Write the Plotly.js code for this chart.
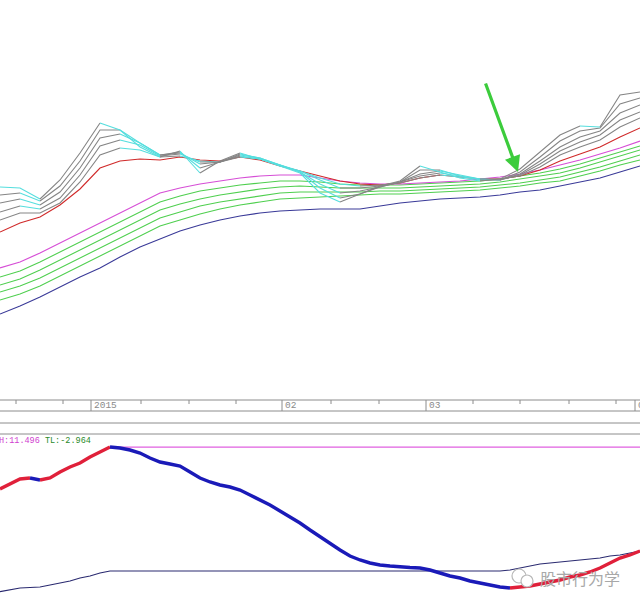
<!DOCTYPE html>
<html><head><meta charset="utf-8">
<script src="https://cdn.plot.ly/plotly-3.0.1.min.js"></script>
<style>html,body{margin:0;padding:0;background:#fff;overflow:hidden}#chart{width:640px;height:607px;}</style>
</head><body><div id="chart"></div>
<script>
// ---------- DATA ----------
// upper panel: moving averages sampled every 2 trading-day slots (index 0..64)
const L1 = [213,212,201,220,247,277,270,253,243,249,227,239,247,241,234,227,207,198,206,214,219,234,228,222,219,221,231,248,265,274,273,305,308];
const L2 = [205,207,199,214,239,270,270,257,245,248,232,238,246,242,235,228,212,202,206,213,218,230,230,224,220,220,228,243,259,269,272,296,302];
const L3 = [197,201,195,208,232,262,266,257,245,247,236,238,245,242,235,228,216,207,209,213,218,226,229,225,221,220,226,239,253,263,269,287,295];
const L4 = [188,194,191,202,225,254,260,255,244,246,238,238,244,241,235,229,220,212,212,214,218,224,227,224,221,220,225,236,249,258,265,280,288];
const L5 = [180,187,187,197,218,245,252,250,243,244,239,238,243,241,234,229,222,216,214,215,217,222,225,223,221,221,224,233,245,253,260,273,282];
const RED = [168,177,183,195,211,232,239,241,240,243,240,239,243,240,234,229,224,219,216,215,217,222,225,223,221,221,224,230,239,246,253,263,272];
const MAG = [132,138,147,157,167,177,187,197,207,212,216,219,222,224,225,225,222,219,217,216,216,217,218,219,221,223,226,230,235,240,246,252,259];
const G1 = [123,129,138,148,158,168,178,188,198,204,209,212,215,217,219,219,218,216,215,215,215,216,217,218,219,221,224,227,231,236,242,248,254];
const G2 = [115,121,130,140,150,160,170,180,190,196,201,205,208,211,213,214,213,212,212,212,212,213,214,215,216,218,221,224,227,232,238,244,250];
const G3 = [108,114,122,132,142,152,162,172,182,188,194,198,201,204,207,208,208,208,208,209,209,210,211,212,213,215,217,220,223,228,233,239,245];
const G4 = [100,106,114,124,134,144,154,164,174,180,186,191,195,198,201,202,203,204,205,206,206,207,208,209,210,212,214,217,219,224,229,235,240];
const BLUE = [86,94,103,113,123,132,143,153,161,169,175,180,184,187,189,190,191,191,191,194,197,199,201,202,203,205,208,210,214,218,222,228,234];

// lower panel: oscillator (thick) and trailing line (thin), one value per slot
const OSC = [7.3,7.8,8.3,8.4,8.2,8.4,9.0,9.5,9.9,10.5,11.0,11.496,11.4,11.2,10.9,10.4,10.0,9.8,9.6,9.0,8.4,8.0,7.7,7.5,7.2,6.7,6.2,5.7,5.1,4.5,3.9,3.2,2.5,1.8,1.2,0.6,0.2,-0.1,-0.3,-0.4,-0.5,-0.55,-0.6,-0.8,-1.1,-1.4,-1.6,-1.9,-2.1,-2.3,-2.5,-2.6,-2.5,-2.4,-2.2,-2.0,-1.8,-1.5,-1.3,-1.0,-0.6,-0.1,0.4,0.7,1.1];
const TRAIL = [-2.964,-2.8,-2.6,-2.55,-2.5,-2.3,-2.1,-1.9,-1.6,-1.4,-1.1,-0.9,-0.9,-0.9,-0.9,-0.9,-0.9,-0.9,-0.9,-0.9,-0.9,-0.9,-0.9,-0.9,-0.9,-0.9,-0.9,-0.9,-0.9,-0.9,-0.9,-0.9,-0.9,-0.9,-0.9,-0.9,-0.9,-0.9,-0.9,-0.9,-0.9,-0.9,-0.9,-0.9,-0.9,-0.9,-0.9,-0.9,-0.9,-0.9,-0.9,-0.8,-0.6,-0.4,-0.2,-0.1,0.0,0.1,0.2,0.3,0.4,0.6,0.7,0.9,1.1];
const H_VAL = 11.496, TL_VAL = -2.964;

// time axis
const majorTicks = [9.1, 28.2, 42.6, 63.5];
const majorLabels = ["2015", "02", "03", "04"];
const minorTicks = [1.6, 6.3, 14.1, 18.9, 23.6, 33.1, 37.9, 47.3, 52.0, 56.9, 61.6];
const watermark = "股市行为学";

// ---------- BUILD ----------
const xUp = UPX = L1.map((_, i) => i * 2);
const xLow = OSC.map((_, i) => i);
const Hpx = 607;
const py = p => 1 - p / Hpx;

const traces = [];
function line(x, y, color, width, xa, ya) {
  traces.push({type:'scatter', mode:'lines', x:x, y:y, xaxis:xa, yaxis:ya,
    line:{color:color, width:width, shape:'linear'}, hoverinfo:'skip', showlegend:false});
}
function slopeLine(x, y, upC, downC, width, xa, ya) {
  let runs = [];
  for (let i = 0; i < y.length - 1; i++) {
    const c = y[i+1] >= y[i] ? upC : downC;
    if (runs.length && runs[runs.length-1].c === c) runs[runs.length-1].idx.push(i+1);
    else runs.push({c:c, idx:[i, i+1]});
  }
  // draw down (cyan/blue) runs after up runs? keep order
  runs.forEach(r => line(r.idx.map(k => x[k]), r.idx.map(k => y[k]), r.c, width, xa, ya));
}

line(xUp, BLUE, '#3a3a98', 1.1, 'x', 'y');
[G4, G3, G2, G1].forEach(g => line(xUp, g, '#4fcf4f', 1.1, 'x', 'y'));
line(xUp, MAG, '#d64fd6', 1.2, 'x', 'y');
line(xUp, RED, '#d02a2a', 1.1, 'x', 'y');
[L5, L4, L3, L2, L1].forEach(l => slopeLine(xUp, l, '#858585', '#55dede', 1.1, 'x', 'y'));

// lower panel
line(xLow, TRAIL, '#2a2a70', 1.1, 'x2', 'y2');
const peakIdx = OSC.indexOf(Math.max(...OSC));
line([xLow[peakIdx], xLow[xLow.length-1]], [H_VAL, H_VAL], '#e060e0', 1.2, 'x2', 'y2');
slopeLine(xLow, OSC, '#e0203a', '#1a1ab8', 3.4, 'x2', 'y2');

const shapes = [];
[400, 411, 423, 434].forEach(p => shapes.push({type:'line', xref:'paper', yref:'paper', x0:0, x1:1, y0:py(p), y1:py(p), line:{color:'#8c8c8c', width:1}}));
majorTicks.forEach(t => shapes.push({type:'line', xref:'x', yref:'paper', x0:t, x1:t, y0:py(400), y1:py(411), line:{color:'#8c8c8c', width:1}}));
minorTicks.forEach(t => shapes.push({type:'line', xref:'x', yref:'paper', x0:t, x1:t, y0:py(400), y1:py(404), line:{color:'#8c8c8c', width:1}}));
// watermark icon bubbles
shapes.push({type:'circle', xref:'paper', yref:'paper', x0:512/640, x1:526/640, y0:py(583), y1:py(569), line:{color:'#b8b8b8', width:1.2}, fillcolor:'#ffffff'});
shapes.push({type:'circle', xref:'paper', yref:'paper', x0:521/640, x1:533/640, y0:py(587), y1:py(575), line:{color:'#b8b8b8', width:1.2}, fillcolor:'#ffffff'});

const annotations = [];
majorTicks.forEach((t, i) => annotations.push({xref:'x', yref:'paper', x:t, y:py(405.5), text:majorLabels[i], showarrow:false, xanchor:'left', yanchor:'middle', xshift:1, font:{family:'Liberation Mono', size:9.5, color:'#8a8a8a'}}));
annotations.push({xref:'paper', yref:'paper', x:0, y:py(440.5), xanchor:'left', yanchor:'middle', xshift:-3, showarrow:false,
  text:'<span style="color:#d040d0">H:' + H_VAL.toFixed(3) + '</span> <span style="color:#2a8a2a">TL:' + TL_VAL.toFixed(3) + '</span>',
  font:{family:'Liberation Mono', size:8.5}});
annotations.push({xref:'x', yref:'y', x:51.8, y:228, ax:-33, ay:-90, showarrow:true, arrowhead:2, arrowsize:1, arrowwidth:3.2, arrowcolor:'#3ccc3c', text:''});
annotations.push({xref:'paper', yref:'paper', x:538/640, y:py(578), xanchor:'left', yanchor:'middle', showarrow:false, text:watermark,
  font:{family:'Noto Sans CJK SC', size:16, color:'#a8a8a8'}});

const layout = {
  width:640, height:607, margin:{l:0, r:0, t:0, b:0},
  paper_bgcolor:'#ffffff', plot_bgcolor:'#ffffff', showlegend:false,
  xaxis:{domain:[0,1], range:[0,64], visible:false, fixedrange:true},
  yaxis:{domain:[py(400),1], range:[0,400], visible:false, fixedrange:true},
  xaxis2:{domain:[0,1], range:[0,64], visible:false, anchor:'y2', fixedrange:true},
  yaxis2:{domain:[0,py(434)], range:[-4.5,12.8], visible:false, anchor:'x2', fixedrange:true},
  shapes:shapes, annotations:annotations
};
Plotly.newPlot('chart', traces, layout, {displayModeBar:false, staticPlot:true});
</script></body></html>
